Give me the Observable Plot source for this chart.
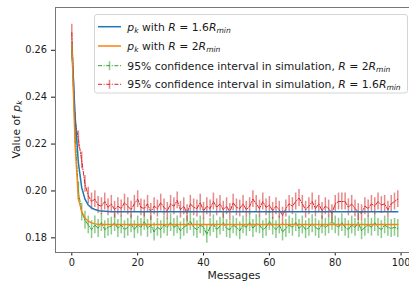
<!DOCTYPE html>
<html>
<head>
<meta charset="utf-8">
<script src="https://cdn.jsdelivr.net/npm/d3@7"></script>
<script src="https://cdn.jsdelivr.net/npm/@observablehq/plot@0.6"></script>
<style>
  html, body { margin: 0; padding: 0; background: white; overflow: hidden; }
  #chart svg { display: block; }
</style>
</head>
<body>
<div id="chart"></div>
<script>
// ---- data ----
const xTicks = [0, 20, 40, 60, 80, 100];
const yTicks = [0.18, 0.20, 0.22, 0.24, 0.26];

// theoretical p_k, R = 1.6 Rmin (flat after x = 12)
const theoryBlueX = [0, 1, 2, 3, 4, 5, 6, 7, 8, 9, 10, 11, 12, 99];
const theoryBlueY = [0.263, 0.232, 0.212, 0.2015, 0.1965, 0.1940, 0.1928, 0.1921, 0.1917, 0.1914, 0.1913, 0.1912, 0.1911, 0.1911];
// theoretical p_k, R = 2 Rmin
const theoryOrangeX = [0, 1, 2, 3, 4, 5, 6, 7, 8, 9, 99];
const theoryOrangeY = [0.263, 0.219, 0.1965, 0.1912, 0.1885, 0.1871, 0.1864, 0.1860, 0.1858, 0.1857, 0.1857];

// simulation means (messages 0..99)
const simRed = [
  0.2675, 0.230, 0.222, 0.213, 0.203, 0.198, 0.1955, 0.1965, 0.194, 0.1935,
  0.1955, 0.193, 0.1945, 0.192, 0.1935, 0.1925, 0.195, 0.1935, 0.192, 0.1945,
  0.1965, 0.193, 0.1925, 0.1945, 0.191, 0.1935, 0.1925, 0.195, 0.193, 0.1915,
  0.1945, 0.1935, 0.196, 0.192, 0.1935, 0.1905, 0.1945, 0.193, 0.1925, 0.195,
  0.1915, 0.1935, 0.1925, 0.1955, 0.193, 0.1945, 0.192, 0.1935, 0.191, 0.195,
  0.193, 0.1925, 0.1945, 0.192, 0.1935, 0.1965, 0.1945, 0.1925, 0.1955, 0.193,
  0.194, 0.1915, 0.1935, 0.192, 0.1895, 0.1925, 0.1945, 0.1935, 0.1955, 0.197,
  0.1945, 0.192, 0.1935, 0.1955, 0.1925, 0.1945, 0.1915, 0.1935, 0.1925, 0.1905,
  0.1945, 0.1955, 0.1955, 0.1955, 0.193, 0.1945, 0.1925, 0.191, 0.1905, 0.1935,
  0.1925, 0.1945, 0.1935, 0.1955, 0.194, 0.1945, 0.192, 0.1945, 0.1955, 0.1965
];
const simGreen = [
  0.2600, 0.224, 0.200, 0.191, 0.1875, 0.1855, 0.1835, 0.1855, 0.184, 0.1865,
  0.1835, 0.1845, 0.185, 0.1865, 0.184, 0.1855, 0.1835, 0.1845, 0.186, 0.1835,
  0.1855, 0.1845, 0.187, 0.184, 0.1855, 0.1825, 0.1845, 0.1835, 0.1855, 0.1845,
  0.1865, 0.1845, 0.1855, 0.183, 0.1845, 0.1855, 0.187, 0.1845, 0.1835, 0.1855,
  0.1845, 0.1815, 0.1845, 0.186, 0.1835, 0.185, 0.1865, 0.184, 0.1835, 0.1855,
  0.1845, 0.183, 0.1855, 0.1845, 0.1865, 0.184, 0.186, 0.1855, 0.1835, 0.1845,
  0.187, 0.185, 0.1835, 0.1855, 0.1825, 0.184, 0.1855, 0.1845, 0.1865, 0.184,
  0.1855, 0.1835, 0.1845, 0.186, 0.1845, 0.1835, 0.1855, 0.1845, 0.1855, 0.187,
  0.1855, 0.1845, 0.1865, 0.1845, 0.1835, 0.1855, 0.1845, 0.1865, 0.183, 0.1845,
  0.1855, 0.1845, 0.1865, 0.1845, 0.1835, 0.1855, 0.1845, 0.184, 0.1845, 0.184
];
const ciRed = 0.0036;   // 95% CI half-width
const ciGreen = 0.0038;

const colors = {blue: "#1f77b4", orange: "#ff7f0e", green: "#2ca02c", red: "#d62728"};

// ---- tables ----
const blue = theoryBlueX.map((x, i) => ({x, y: theoryBlueY[i]}));
const orange = theoryOrangeX.map((x, i) => ({x, y: theoryOrangeY[i]}));
const red = simRed.map((y, i) => ({x: i, y, lo: y - ciRed, hi: y + ciRed}));
const green = simGreen.map((y, i) => ({x: i, y, lo: y - ciGreen, hi: y + ciGreen}));

const xDomain = [-4.95, 103.95];
const yDomain = [0.17375, 0.27825];
const dashDot = "4,1.6,1,1.6";

const svg = Plot.plot({
  width: 409,
  height: 283,
  marginLeft: 55,
  marginTop: 7,
  marginBottom: 31,
  marginRight: 0,
  style: {fontFamily: "DejaVu Sans, sans-serif", fontSize: "9.8px", color: "#1a1a1a", background: "white"},
  x: {domain: xDomain, range: [55, 413.6], ticks: xTicks, tickSize: 3.5, tickPadding: 3, label: null},
  y: {domain: yDomain, range: [252, 7], ticks: yTicks, tickFormat: d3.format(".2f"), tickSize: 4, tickPadding: 4.5, label: null},
  marks: [
    Plot.ruleX(green, {x: "x", y1: "lo", y2: "hi", stroke: colors.green, strokeOpacity: 0.55, strokeWidth: 1.5}),
    Plot.line(green, {x: "x", y: "y", stroke: colors.green, strokeWidth: 1, strokeDasharray: dashDot}),
    Plot.ruleX(red, {x: "x", y1: "lo", y2: "hi", stroke: colors.red, strokeOpacity: 0.55, strokeWidth: 1.5}),
    Plot.line(red, {x: "x", y: "y", stroke: colors.red, strokeWidth: 1, strokeDasharray: dashDot}),
    Plot.line(blue, {x: "x", y: "y", stroke: colors.blue, strokeWidth: 1.5}),
    Plot.line(orange, {x: "x", y: "y", stroke: colors.orange, strokeWidth: 1.3}),
    Plot.ruleX([xDomain[0]], {stroke: "#777", strokeWidth: 1}),
    Plot.ruleY([yDomain[0], yDomain[1]], {stroke: "#777", strokeWidth: 1})
  ]
});
document.getElementById("chart").appendChild(svg);

// ---- labels & legend ----
const s = d3.select(svg);
const FONT = "DejaVu Sans, sans-serif";

function mathText(g, x, y, parts, size, anchor) {
  const t = g.append("text").attr("x", x).attr("y", y)
    .attr("text-anchor", anchor || "start")
    .attr("font-family", FONT).attr("font-size", size).attr("fill", "#1a1a1a");
  let shifted = 0;
  parts.forEach(p => {
    const o = typeof p === "string" ? {t: p} : p;
    const ts = t.append("tspan").text(o.t);
    if (o.i) ts.attr("font-style", "italic");
    if (o.sub) {
      ts.attr("font-size", size * 0.7);
      if (!shifted) { ts.attr("dy", size * 0.22); shifted = size * 0.22; }
    } else if (shifted) {
      ts.attr("dy", -shifted); shifted = 0;
    }
  });
  return t;
}

// y label
const yl = s.append("g").attr("transform", "translate(20,129.5) rotate(-90)");
mathText(yl, 0, 0, ["Value of ", {t: "p", i: true}, {t: "k", i: true, sub: true}], 10.8, "middle");

// x label
s.append("text").attr("x", 234).attr("y", 279).attr("text-anchor", "middle")
  .attr("font-family", FONT).attr("font-size", 10.8).attr("fill", "#1a1a1a").text("Messages");

// legend
const lg = s.append("g");
lg.append("rect").attr("x", 94.5).attr("y", 14.5).attr("width", 313).attr("height", 78.5)
  .attr("rx", 2.5).attr("fill", "white").attr("fill-opacity", 0.8).attr("stroke", "#d5d5d5");
const rows = [
  {y: 26.7, color: colors.blue, err: false, label: [{t: "p", i: true}, {t: "k", i: true, sub: true}, " with ", {t: "R", i: true}, " = 1.6", {t: "R", i: true}, {t: "min", i: true, sub: true}]},
  {y: 46, color: colors.orange, err: false, label: [{t: "p", i: true}, {t: "k", i: true, sub: true}, " with ", {t: "R", i: true}, " = 2", {t: "R", i: true}, {t: "min", i: true, sub: true}]},
  {y: 65.7, color: colors.green, err: true, label: ["95% confidence interval in simulation, ", {t: "R", i: true}, " = 2", {t: "R", i: true}, {t: "min", i: true, sub: true}]},
  {y: 84.3, color: colors.red, err: true, label: ["95% confidence interval in simulation, ", {t: "R", i: true}, " = 1.6", {t: "R", i: true}, {t: "min", i: true, sub: true}]}
];
rows.forEach(r => {
  if (r.err) {
    lg.append("line").attr("x1", 98).attr("x2", 121).attr("y1", r.y).attr("y2", r.y)
      .attr("stroke", r.color).attr("stroke-width", 1).attr("stroke-dasharray", dashDot);
    lg.append("line").attr("x1", 109.5).attr("x2", 109.5).attr("y1", r.y - 4.5).attr("y2", r.y + 4.5)
      .attr("stroke", r.color).attr("stroke-opacity", 0.55).attr("stroke-width", 1.5);
  } else {
    lg.append("line").attr("x1", 98).attr("x2", 121).attr("y1", r.y).attr("y2", r.y)
      .attr("stroke", r.color).attr("stroke-width", 1.5);
  }
  mathText(lg, 127.3, r.y + 3.8, r.label, 10.8);
});
</script>
</body>
</html>
